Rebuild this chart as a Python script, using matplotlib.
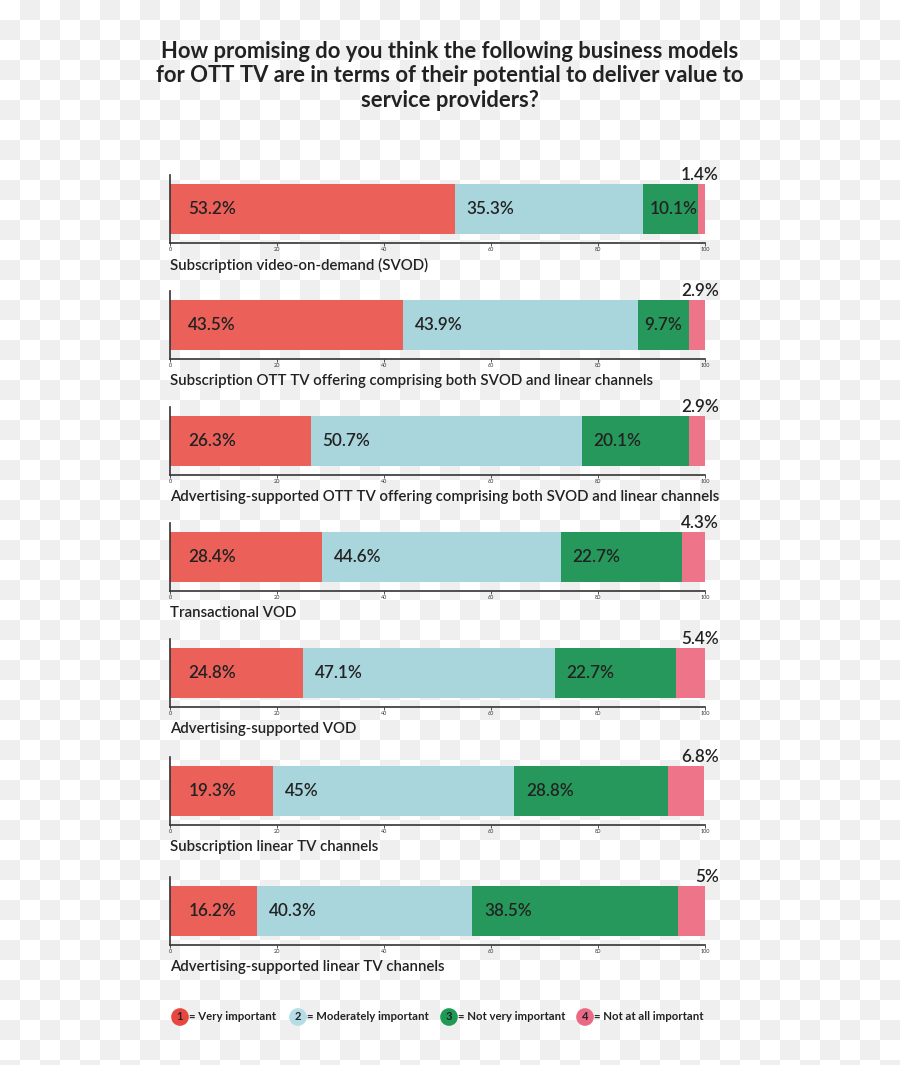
import numpy as np
import matplotlib
matplotlib.use('Agg')
import matplotlib.pyplot as plt

W, H = 900, 1065

categories = [
    'Subscription video-on-demand (SVOD)',
    'Subscription OTT TV offering comprising both SVOD and linear channels',
    'Advertising-supported OTT TV offering comprising both SVOD and linear channels',
    'Transactional VOD',
    'Advertising-supported VOD',
    'Subscription linear TV channels',
    'Advertising-supported linear TV channels',
]
very_important = [53.2, 43.5, 26.3, 28.4, 24.8, 19.3, 16.2]
moderately_important = [35.3, 43.9, 50.7, 44.6, 47.1, 45, 40.3]
not_very_important = [10.1, 9.7, 20.1, 22.7, 22.7, 28.8, 38.5]
not_at_all_important = [1.4, 2.9, 2.9, 4.3, 5.4, 6.8, 5]

legend_labels = ['= Very important', '= Moderately important',
                 '= Not very important', '= Not at all important']

COLORS = ['#EC605A', '#A9D6DD', '#27985B', '#EE7489']
LEG_COLORS = ['#E8473F', '#B5DDE5', '#1E9A55', '#E86A84']
TXT = '#222222'

plt.rcParams['font.family'] = ['Lato', 'DejaVu Sans']

fig = plt.figure(figsize=(W / 100, H / 100), dpi=100)

# checkerboard background (transparency pattern of the source image)
yy, xx = np.mgrid[0:H, 0:W]
chk = ((xx // 20 + yy // 20) % 2).astype(float)
bg = np.where(chk[..., None] > 0, 0.94, 1.0) * np.ones((H, W, 3))
fig.figimage(bg, xo=0, yo=0, origin='upper', zorder=-10)

fig.text(450 / W, 1 - 76 / H,
         'How promising do you think the following business models\n'
         'for OTT TV are in terms of their potential to deliver value to\n'
         'service providers?',
         ha='center', va='center', fontsize=15.8, fontweight='bold',
         color=TXT, linespacing=1.2)

bar_tops = [184, 300, 416, 532, 648, 766, 886]
X0, X1 = 170, 705


def px_axes(left, top, width, height):
    return fig.add_axes([left / W, 1 - (top + height) / H, width / W, height / H])


series = [very_important, moderately_important, not_very_important, not_at_all_important]

for i, cat in enumerate(categories):
    top = bar_tops[i] - 9
    ax = px_axes(X0, top, X1 - X0, 68)
    ax.set_zorder(1)
    ax.set_xlim(0, 100)
    ax.set_ylim(0, 68)
    ax.patch.set_alpha(0)
    left = 0
    for s, vals in enumerate(series):
        v = vals[i]
        ax.barh(34, v, left=left, height=50, color=COLORS[s], edgecolor='none')
        lab = f'{v:g}%'
        if s < 3:
            if s == 0:
                off = 3.4
            elif v < 12:
                off = 1.2
            else:
                off = 2.2
            ax.text(left + off, 34, lab, ha='left', va='center',
                    fontsize=12.3, fontweight='semibold', color=TXT)
        else:
            ax.text(102.6, 68, lab, ha='right', va='center',
                    fontsize=12.3, fontweight='semibold', color=TXT,
                    clip_on=False)
        left += v
    for sp in ['top', 'right']:
        ax.spines[sp].set_visible(False)
    for sp in ['left', 'bottom']:
        ax.spines[sp].set_color('#333333')
        ax.spines[sp].set_linewidth(1.2)
    ax.set_yticks([])
    ax.set_xticks([0, 20, 40, 60, 80, 100])
    ax.tick_params(axis='x', length=2, width=0.6, pad=1, labelsize=4,
                   colors='#333333')
    fig.text(X0 / W, 1 - (bar_tops[i] + 81) / H, cat, ha='left', va='center',
             fontsize=10.8, fontweight='semibold', color=TXT)

# legend
leg_x = [180, 298, 449, 585]
leg_y = 1 - 1017 / H
for k, lab in enumerate(legend_labels):
    fig.text(leg_x[k] / W, leg_y, str(k + 1), ha='center', va='center',
             fontsize=8, fontweight='bold', color=TXT,
             bbox=dict(boxstyle='circle,pad=0.3', fc=LEG_COLORS[k], ec='none'))
    fig.text((leg_x[k] + 9) / W, leg_y, lab, ha='left', va='center',
             fontsize=8.2, fontweight='bold', color=TXT)

fig.savefig('out.png', dpi=100)
